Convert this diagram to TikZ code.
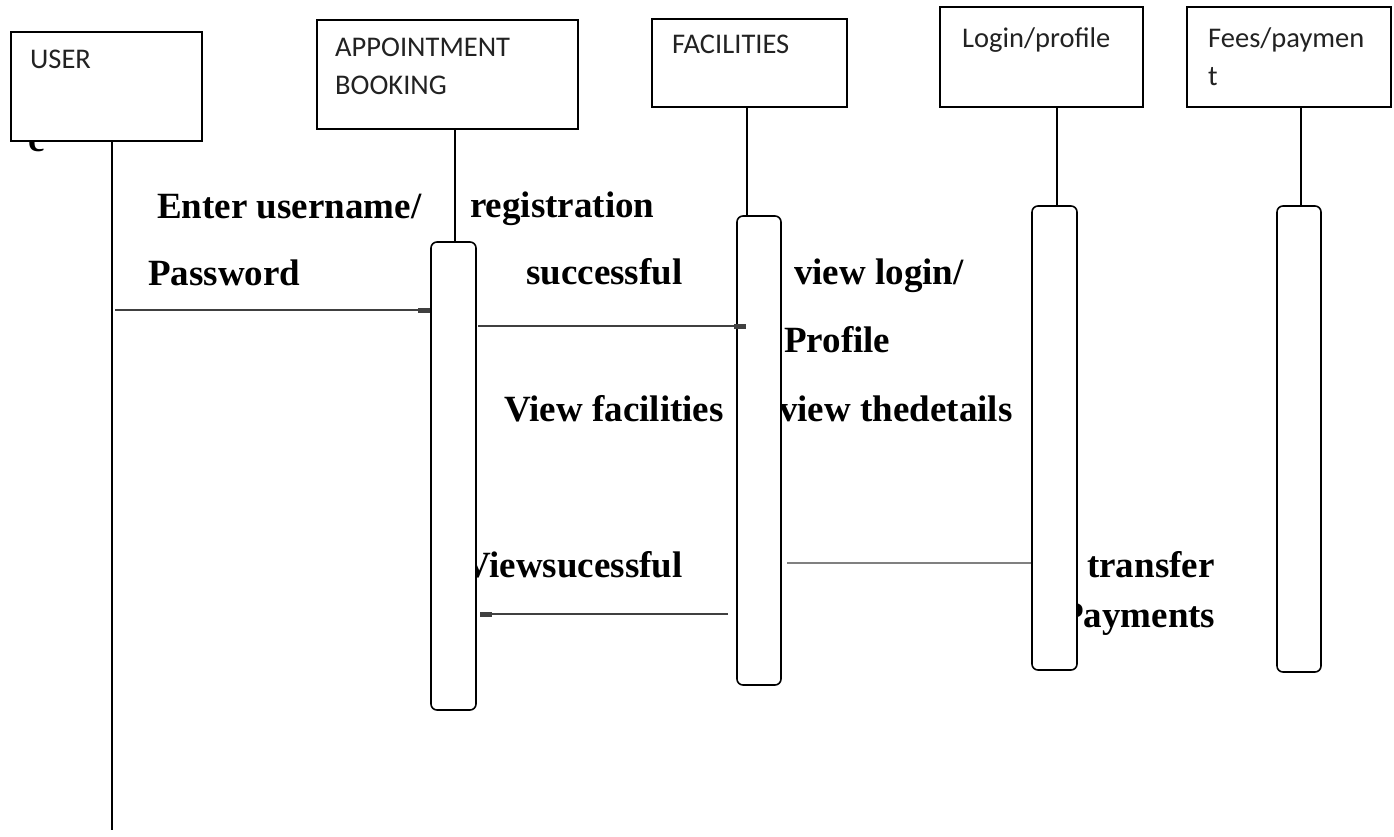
\documentclass[tikz,border=0pt]{standalone}
\usepackage{fontspec}
\setmainfont{Liberation Serif}
\newfontfamily\boxfont{Carlito}
\usetikzlibrary{arrows.meta}
\definecolor{msgcol}{HTML}{404040}
\definecolor{retcol}{HTML}{808080}
\definecolor{labcol}{HTML}{222222}
\tikzset{
  objbox/.style={draw=black, line width=1.5pt, fill=white, inner sep=0pt},
  actbox/.style={draw=black, line width=1.6pt, fill=white, rounded corners=6pt, inner sep=0pt},
  boxlab/.style={font=\boxfont\fontsize{28.5}{34}\selectfont, text=labcol, anchor=base west, inner sep=0pt},
  msgtxt/.style={font=\bfseries\fontsize{37}{44}\selectfont, anchor=base west, inner sep=0pt},
  life/.style={draw=black, line width=1.6pt},
  msg/.style={draw=msgcol, line width=2.2pt, -{Rectangle[length=12pt,width=5pt]}},
  ret/.style={draw=retcol, line width=2.2pt}
}
\begin{document}
\begin{tikzpicture}[x=1pt,y=-1pt]
\fill[white] (0,0) rectangle (1394,836);
\useasboundingbox (0,0) rectangle (1394,836);
% stray character under USER box
\node[msgtxt] (stray) at (28,151) {c};
% object boxes
\node[objbox, minimum width=191pt, minimum height=109pt] (user) at (106.5,86.5) {};
\node[objbox, minimum width=261pt, minimum height=109pt] (app) at (447.5,74.5) {};
\node[objbox, minimum width=195pt, minimum height=88pt] (fac) at (749.5,63) {};
\node[objbox, minimum width=203pt, minimum height=100pt] (login) at (1041.5,57) {};
\node[objbox, minimum width=204pt, minimum height=100pt] (fees) at (1289,57) {};
% box labels
\node[boxlab] (luser) at (30,68) {USER};
\node[boxlab] (lapp1) at (335,56) {APPOINTMENT};
\node[boxlab] (lapp2) at (335,94) {BOOKING};
\node[boxlab] (lfac) at (672,53) {FACILITIES};
\node[boxlab] (llogin) at (962,47) {Login/profile};
\node[boxlab] (lfees1) at (1208,47) {Fees/paymen};
\node[boxlab] (lfees2) at (1208,85) {t};
% lifeline coordinates
\coordinate (userTop) at (112,141);
\coordinate (userEnd) at (112,830);
\coordinate (appTop) at (455,129);
\coordinate (facTop) at (747,107);
\coordinate (loginTop) at (1057,107);
\coordinate (feesTop) at (1301,107);
\draw[life] (userTop) -- (userEnd);
\draw[life] (appTop) -- (455,242);
\draw[life] (facTop) -- (747,216);
\draw[life] (loginTop) -- (1057,206);
\draw[life] (feesTop) -- (1301,206);
% message texts
\node[msgtxt] (t1) at (157,218) {Enter username/};
\node[msgtxt] (t2) at (470,217) {registration};
\node[msgtxt] (t3) at (148,285) {Password};
\node[msgtxt] (t4) at (526,284) {successful};
\node[msgtxt] (t5) at (794,284) {view login/};
\node[msgtxt] (t6) at (784,352) {Profile};
\node[msgtxt] (t7) at (504,421) {View facilities};
\node[msgtxt] (t8) at (779,421) {view thedetails};
\node[msgtxt] (t9) at (464,577) {Viewsucessful};
\node[msgtxt] (t10) at (1087,577) {transfer};
\node[msgtxt] (t11) at (1061,627) {Payments};
% activation boxes
\node[actbox, minimum width=45pt, minimum height=468pt] (actApp) at (453.5,476) {};
\node[actbox, minimum width=44pt, minimum height=469pt] (actFac) at (759,450.5) {};
\node[actbox, minimum width=45pt, minimum height=464pt] (actLogin) at (1054.5,438) {};
\node[actbox, minimum width=44pt, minimum height=466pt] (actFees) at (1299,439) {};
% messages
\coordinate (m1s) at (115,310);
\coordinate (m2s) at (478,326);
\coordinate (m2e) at (746,326);
\coordinate (m3s) at (1031,563);
\coordinate (m3e) at (787,563);
\coordinate (m4s) at (728,614);
\coordinate (m4e) at (480,614);
\draw[msg] (m1s) -- (m1s -| actApp.west);
\draw[msg] (m2s) -- (m2e);
\draw[ret] (m3s) -- (m3e);
\draw[msg] (m4s) -- (m4e);
\end{tikzpicture}
\end{document}
